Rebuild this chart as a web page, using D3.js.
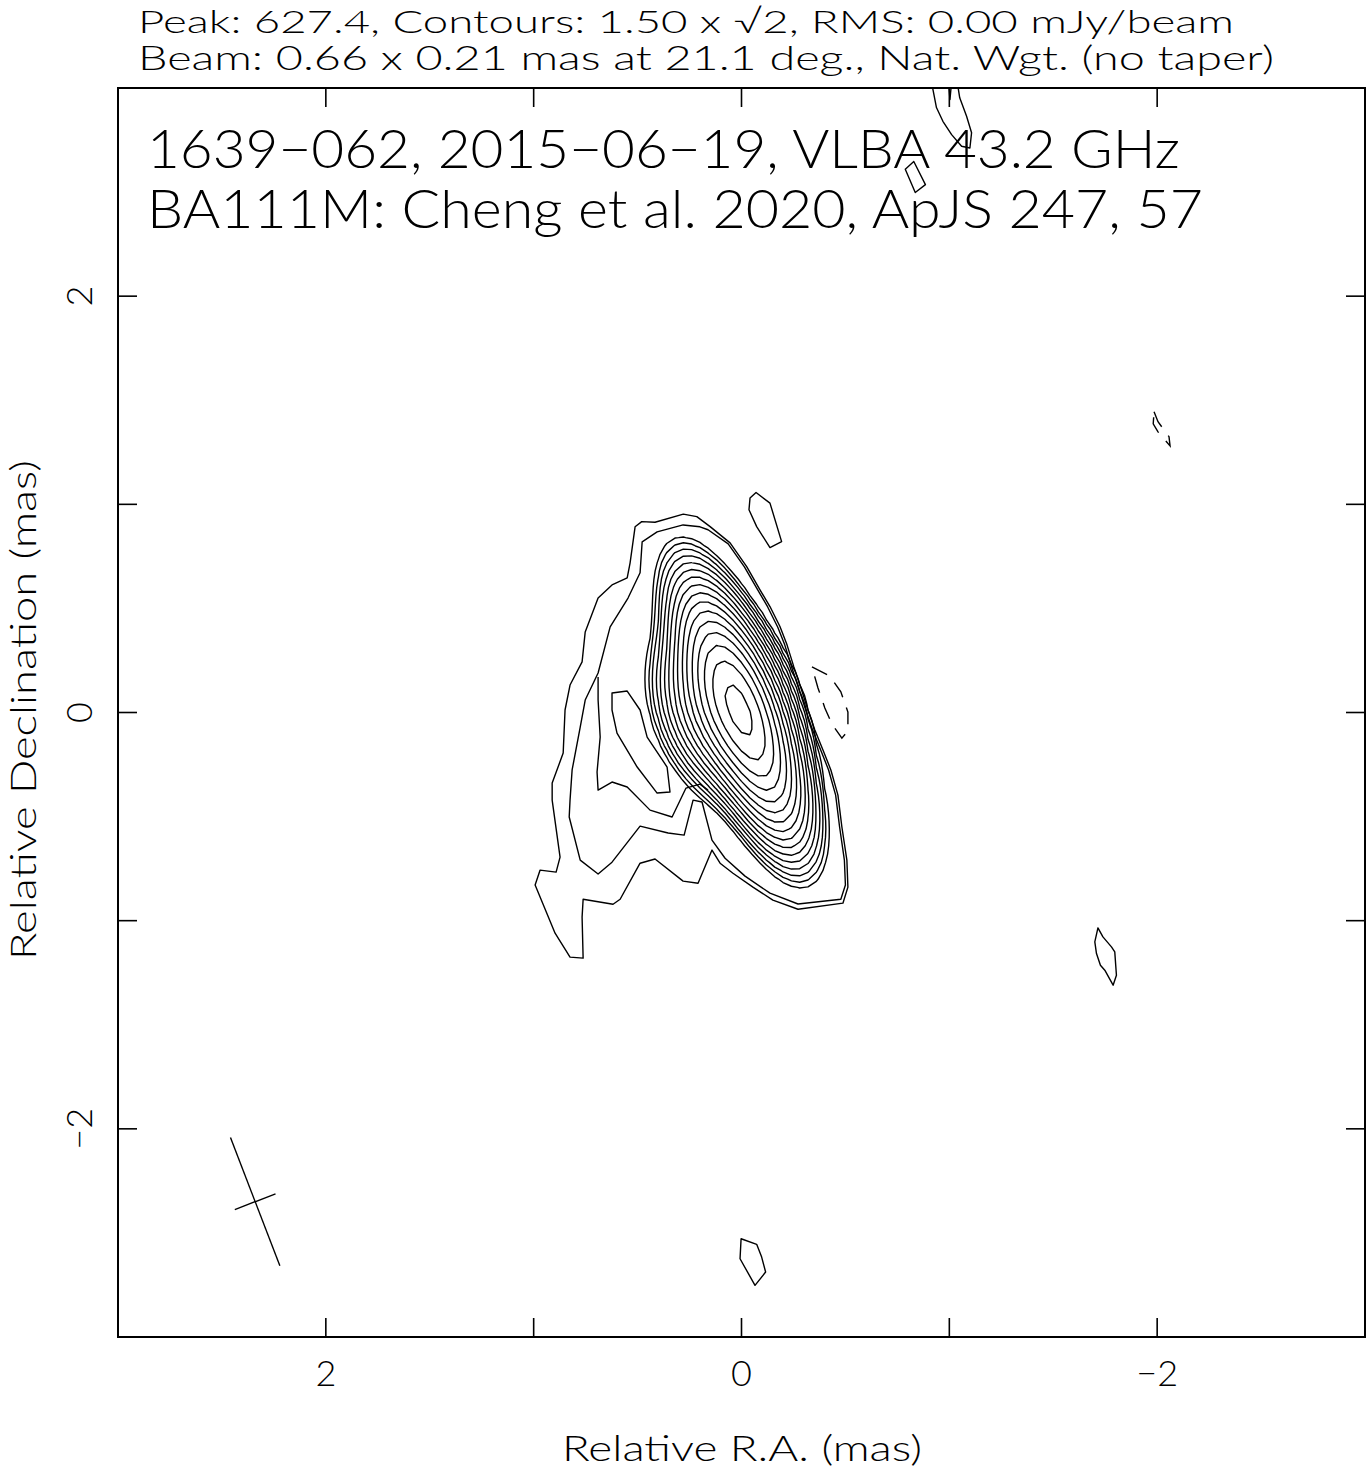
<!DOCTYPE html>
<html><head><meta charset="utf-8">
<script src="https://cdn.jsdelivr.net/npm/d3@7"></script>
<style>body{margin:0;background:#fff}text{font-family:Lato,"DejaVu Sans",sans-serif;font-weight:300;fill:#000}</style>
</head><body><svg id="c" width="1367" height="1472"></svg>
<script>
// ---------- data ----------
const headerLines = ["Peak: 627.4, Contours: 1.50 x \u221A2, RMS: 0.00 mJy/beam",
                     "Beam: 0.66 x 0.21 mas at 21.1 deg., Nat. Wgt. (no taper)"];
const titleLines = ["1639\u2212062, 2015\u221206\u221219, VLBA 43.2 GHz",
                    "BA111M: Cheng et al. 2020, ApJS 247, 57"];
const xLabel = "Relative R.A. (mas)";
const yLabel = "Relative Declination (mas)";
const majorTicks = [2, 0, -2];
const minorTicks = [1, -1];
const tickLabels = ["2", "0", "\u22122"];
const peak = 627.4, baseLevel = 1.5, nLevels = 18;
const beam = {maj: 0.66, min: 0.21, pa: 21.1, ra: 2.34, dec: -2.35};
// model components for the bright core (RA offset, Dec offset, peak mJy/beam, FWHM maj, min (mas), PA deg)
const compRA   = [0.0, 0.08];
const compDec  = [0.0, 0.02];
const compPeak = [500, 140];
const compMaj  = [0.66, 0.45];
const compMin  = [0.21, 0.30];
const compPA   = [21.1, 21.0];
// traced low-level contours (RA mas, Dec mas)
const contourL0 = [[0.480,0.917],[0.416,0.914],[0.280,0.953],[0.215,0.941],[0.151,0.893],[0.055,0.815],[-0.025,0.701],[-0.089,0.589],[-0.137,0.509],[-0.185,0.413],[-0.219,0.325],[-0.252,0.219],[-0.286,0.118],[-0.320,0.012],[-0.353,-0.084],[-0.392,-0.180],[-0.430,-0.276],[-0.464,-0.397],[-0.483,-0.550],[-0.507,-0.709],[-0.512,-0.839],[-0.488,-0.916],[-0.272,-0.945],[-0.151,-0.901],[-0.055,-0.839],[0.041,-0.772],[0.103,-0.724],[0.142,-0.661],[0.209,-0.820],[0.281,-0.810],[0.416,-0.704],[0.488,-0.724],[0.584,-0.897],[0.618,-0.921],[0.762,-0.897],[0.767,-0.983],[0.762,-1.180],[0.825,-1.175],[0.897,-1.060],[0.993,-0.829],[0.969,-0.757],[0.892,-0.767],[0.873,-0.695],[0.911,-0.421],[0.911,-0.339],[0.858,-0.195],[0.849,0.012],[0.825,0.132],[0.767,0.243],[0.752,0.387],[0.690,0.550],[0.623,0.613],[0.550,0.647],[0.536,0.719],[0.512,0.892]];
const contourL1 = [[0.200,0.892],[0.281,0.901],[0.406,0.868],[0.478,0.820],[0.488,0.671],[0.546,0.550],[0.632,0.411],[0.690,0.190],[0.752,0.060],[0.776,-0.070],[0.815,-0.276],[0.825,-0.421],[0.829,-0.502],[0.776,-0.709],[0.690,-0.776],[0.623,-0.719],[0.488,-0.546],[0.353,-0.579],[0.276,-0.589],[0.233,-0.421],[0.190,-0.430],[0.142,-0.613],[0.079,-0.700],[-0.017,-0.786],[-0.137,-0.868],[-0.272,-0.920],[-0.478,-0.897],[-0.500,-0.829],[-0.495,-0.709],[-0.472,-0.550],[-0.453,-0.397],[-0.419,-0.276],[-0.381,-0.180],[-0.342,-0.084],[-0.309,0.012],[-0.275,0.118],[-0.241,0.219],[-0.208,0.325],[-0.174,0.411],[-0.126,0.507],[-0.078,0.589],[-0.014,0.700],[0.064,0.810],[0.161,0.878]];
const contourL2 = [[0.690,0.170],[0.690,0.060],[0.680,-0.118],[0.695,-0.286],[0.690,-0.373],[0.623,-0.334],[0.550,-0.358],[0.440,-0.469],[0.334,-0.502],[0.267,-0.363],[0.200,-0.344],[0.161,-0.373]];
const contourL3 = [[0.623,0.094],[0.550,0.103],[0.488,0.012],[0.454,-0.118],[0.358,-0.262],[0.344,-0.382],[0.406,-0.387],[0.502,-0.262],[0.599,-0.099],[0.623,0.012]];
const islandsL0 = [
  [[-0.911,3.041],[-0.921,2.993],[-0.938,2.906],[-0.969,2.840],[-1.011,2.776],[-1.059,2.720],[-1.099,2.712],[-1.107,2.785],[-1.083,2.864],[-1.050,2.953],[-1.036,3.041]],
  [[-0.829,2.647],[-0.788,2.610],[-0.836,2.498],[-0.885,2.536]],
  [[-1.715,-1.035],[-1.700,-1.102],[-1.708,-1.158],[-1.727,-1.214],[-1.748,-1.238],[-1.788,-1.310],[-1.804,-1.262],[-1.796,-1.150],[-1.780,-1.126],[-1.739,-1.078]],
  [[0.002,-2.528],[0.007,-2.624],[-0.065,-2.752],[-0.116,-2.688],[-0.097,-2.616],[-0.073,-2.555]],
  [[-0.041,1.030],[-0.070,1.057],[-0.137,1.006],[-0.193,0.821],[-0.137,0.792],[-0.073,0.893],[-0.036,0.974]]
];
const islandsL1 = [[[-0.995,3.041],[-1.003,2.945],[-1.012,3.041]]];
const negativeL0 = [
  [[-0.339,0.219],[-0.425,0.175],[-0.478,0.099],[-0.512,0.002],[-0.512,-0.089],[-0.483,-0.123],[-0.435,-0.055],[-0.401,0.022],[-0.368,0.118]],
  [[-1.985,1.445],[-2.004,1.397],[-2.057,1.325],[-2.062,1.281],[-2.004,1.348],[-1.981,1.387]]
];

// ---------- layout ----------
const svg = d3.select("#c");
const L = 118, R = 1365, T = 88, B = 1337;
const x = d3.scaleLinear().domain([3, -3]).range([L, R]);
const y = d3.scaleLinear().domain([3, -3]).range([T, B]);

svg.append("defs").append("clipPath").attr("id", "plotclip")
  .append("rect").attr("x", L).attr("y", T).attr("width", R - L).attr("height", B - T);
const plot = svg.append("g").attr("clip-path", "url(#plotclip)");

// ---------- model grid & contours ----------
const step = 0.04, raMax = 1.6, decMax = 1.6;
const nx = Math.round(2 * raMax / step) + 1, ny = Math.round(2 * decMax / step) + 1;
const vals = new Float64Array(nx * ny);
const k = 2 * Math.sqrt(2 * Math.log(2));
for (let j = 0; j < ny; j++) {
  const dec = decMax - j * step;
  for (let i = 0; i < nx; i++) {
    const ra = raMax - i * step;
    let v = 0;
    for (let c = 0; c < compRA.length; c++) {
      const th = compPA[c] * Math.PI / 180;
      const dx = ra - compRA[c], dy = dec - compDec[c];
      const u = dx * Math.sin(th) + dy * Math.cos(th);
      const w = dx * Math.cos(th) - dy * Math.sin(th);
      const sM = compMaj[c] / k, sm = compMin[c] / k;
      v += compPeak[c] * Math.exp(-(u * u / (2 * sM * sM) + w * w / (2 * sm * sm)));
    }
    vals[j * nx + i] = v;
  }
}
const levels = d3.range(nLevels).map(n => baseLevel * Math.pow(Math.SQRT2, n));
const modelLevels = levels.slice(2);
const contours = d3.contours().size([nx, ny]).thresholds(modelLevels)(vals);
const proj = d3.geoTransform({
  point: function (gx, gy) {
    this.stream.point(x(raMax - (gx - 0.5) * step), y(decMax - (gy - 0.5) * step));
  }
});
const gpath = d3.geoPath(proj);
plot.append("g").selectAll("path").data(contours).join("path")
  .attr("d", gpath).attr("fill", "none").attr("stroke", "#000").attr("stroke-width", 1.4)
  .attr("stroke-linejoin", "round");

const line = d3.line().x(d => x(d[0])).y(d => y(d[1])).curve(d3.curveLinearClosed);
const open = d3.line().x(d => x(d[0])).y(d => y(d[1]));
const solid = [contourL0, contourL1, contourL3, ...islandsL0, ...islandsL1];
plot.append("g").selectAll("path").data(solid).join("path")
  .attr("d", line).attr("fill", "none").attr("stroke", "#000").attr("stroke-width", 1.4)
  .attr("stroke-linejoin", "round");
plot.append("path").datum(contourL2).attr("d", open).attr("fill", "none")
  .attr("stroke", "#000").attr("stroke-width", 1.4).attr("stroke-linejoin", "round");
plot.append("g").selectAll("path").data(negativeL0).join("path")
  .attr("d", line).attr("fill", "none").attr("stroke", "#000").attr("stroke-width", 1.4)
  .attr("stroke-dasharray", "17,11");

// beam cross
const th = beam.pa * Math.PI / 180;
const bm = [[beam.ra + beam.maj / 2 * Math.sin(th), beam.dec + beam.maj / 2 * Math.cos(th)],
            [beam.ra - beam.maj / 2 * Math.sin(th), beam.dec - beam.maj / 2 * Math.cos(th)]];
const bn = [[beam.ra + beam.min / 2 * Math.cos(th), beam.dec - beam.min / 2 * Math.sin(th)],
            [beam.ra - beam.min / 2 * Math.cos(th), beam.dec + beam.min / 2 * Math.sin(th)]];
[bm, bn].forEach(s => plot.append("path").attr("d", open(s)).attr("stroke", "#000").attr("stroke-width", 1.4).attr("fill", "none"));

// ---------- frame & ticks ----------
svg.append("rect").attr("x", L).attr("y", T).attr("width", R - L).attr("height", B - T)
  .attr("fill", "none").attr("stroke", "#000").attr("stroke-width", 2);
const tk = svg.append("g").attr("stroke", "#000").attr("stroke-width", 1.6);
function ticks(vals, len) {
  vals.forEach(v => {
    tk.append("line").attr("x1", x(v)).attr("x2", x(v)).attr("y1", B).attr("y2", B - len);
    tk.append("line").attr("x1", x(v)).attr("x2", x(v)).attr("y1", T).attr("y2", T + len);
    tk.append("line").attr("y1", y(v)).attr("y2", y(v)).attr("x1", L).attr("x2", L + len);
    tk.append("line").attr("y1", y(v)).attr("y2", y(v)).attr("x1", R).attr("x2", R - len);
  });
}
ticks(majorTicks, 19);
ticks(minorTicks, 19);

// tick labels
majorTicks.forEach((v, i) => {
  svg.append("text").attr("x", x(v)).attr("y", 1386).attr("text-anchor", "middle")
    .attr("font-size", 36).text(tickLabels[i]);
  svg.append("text").attr("transform", `translate(92,${y(v)}) rotate(-90)`).attr("text-anchor", "middle")
    .attr("font-size", 36).text(tickLabels[i]);
});

// axis labels
svg.append("text").attr("x", 742).attr("y", 1461).attr("text-anchor", "middle")
  .attr("font-size", 36).attr("textLength", 360).attr("lengthAdjust", "spacingAndGlyphs").text(xLabel);
svg.append("text").attr("transform", "translate(36,710) rotate(-90)").attr("text-anchor", "middle")
  .attr("font-size", 36).attr("textLength", 500).attr("lengthAdjust", "spacingAndGlyphs").text(yLabel);

// header
svg.append("text").attr("x", 138).attr("y", 33).attr("font-size", 32)
  .attr("textLength", 1096).attr("lengthAdjust", "spacingAndGlyphs").text(headerLines[0]);
svg.append("text").attr("x", 138).attr("y", 70).attr("font-size", 33)
  .attr("textLength", 1136).attr("lengthAdjust", "spacingAndGlyphs").text(headerLines[1]);
// titles in plot
svg.append("text").attr("x", 147).attr("y", 168).attr("font-size", 53)
  .attr("textLength", 1033).attr("lengthAdjust", "spacingAndGlyphs").text(titleLines[0]);
svg.append("text").attr("x", 147).attr("y", 228).attr("font-size", 53)
  .attr("textLength", 1056).attr("lengthAdjust", "spacingAndGlyphs").text(titleLines[1]);
</script></body></html>
